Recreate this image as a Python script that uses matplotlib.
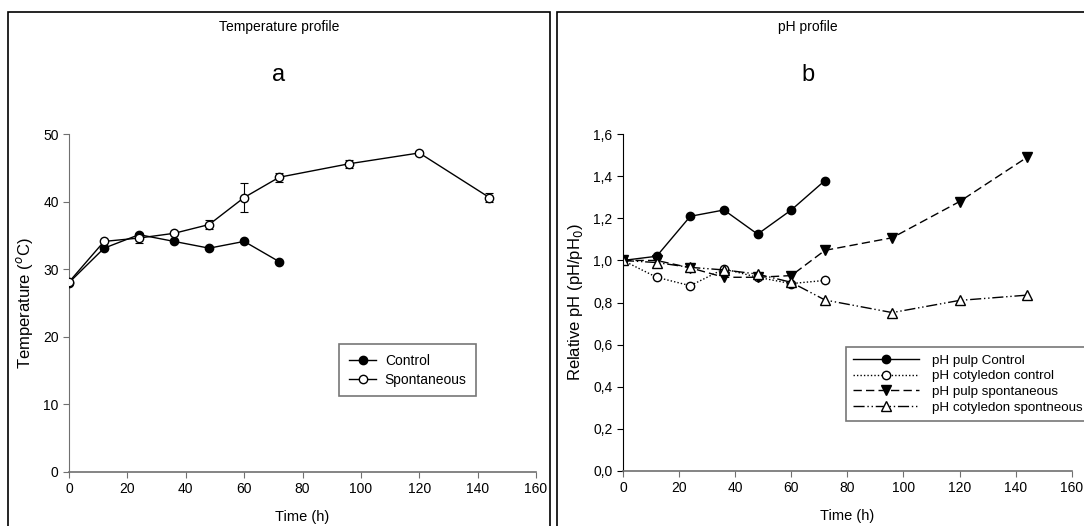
import numpy as np
import matplotlib
matplotlib.use("Agg")
import matplotlib.pyplot as plt
from matplotlib.patches import Rectangle

plt.rcParams['font.family'] = ['Liberation Sans', 'DejaVu Sans']

# Temperature profile data
t_control = [0, 12, 24, 36, 48, 60, 72]
temp_control = [28.0, 33.1, 35.1, 34.1, 33.1, 34.1, 31.1]
t_spont = [0, 12, 24, 36, 48, 60, 72, 96, 120, 144]
temp_spont = [28.1, 34.1, 34.6, 35.3, 36.6, 40.6, 43.6, 45.6, 47.2, 40.6]
temp_spont_err = [0, 0, 0.7, 0, 0.6, 2.1, 0.7, 0.6, 0.3, 0.6]

# pH profile data
t_ph_ctrl = [0, 12, 24, 36, 48, 60, 72]
ph_pulp_ctrl = [1.0, 1.02, 1.21, 1.24, 1.125, 1.24, 1.38]
ph_cot_ctrl = [1.0, 0.92, 0.88, 0.96, 0.92, 0.89, 0.905]
t_ph_spont = [0, 12, 24, 36, 48, 60, 72, 96, 120, 144]
ph_pulp_spont = [1.0, 1.0, 0.965, 0.92, 0.92, 0.928, 1.048, 1.108, 1.28, 1.49]
ph_cot_spont = [1.0, 0.99, 0.967, 0.955, 0.935, 0.896, 0.812, 0.752, 0.81, 0.835]

fig = plt.figure(figsize=(10.84, 5.26), dpi=100)

# panel frames
fig.patches.append(Rectangle((8 / 1084, -0.05), 542 / 1084, 1.05 - 12 / 526,
                             transform=fig.transFigure, fill=False, lw=1.2, ec='black'))
fig.patches.append(Rectangle((557 / 1084, -0.05), 0.6, 1.05 - 12 / 526,
                             transform=fig.transFigure, fill=False, lw=1.2, ec='black'))

gray = '#707070'
fs = 10


def style_axes(ax, ycolor):
    ax.spines['top'].set_visible(False)
    ax.spines['right'].set_visible(False)
    ax.spines['bottom'].set_color(gray)
    ax.spines['left'].set_color(ycolor)
    ax.spines['bottom'].set_linewidth(1.2)
    ax.tick_params(direction='out', length=4, labelsize=fs, colors='black')
    ax.tick_params(axis='x', color=gray)
    ax.tick_params(axis='y', color=ycolor)
    ax.set_xlim(0, 160)
    ax.set_xticks(np.arange(0, 161, 20))
    ax.set_xlabel('Time (h)', fontsize=fs + 0.5, labelpad=10)


# ---- a: temperature
ax1 = fig.add_axes([0.0637, 0.1032, 0.4308, 0.642])
ax1.errorbar(t_spont, temp_spont, yerr=temp_spont_err, fmt='none', ecolor='black',
             elinewidth=0.8, capsize=3.2, capthick=0.8, zorder=2)
ax1.plot(t_control, temp_control, '-o', color='black', mfc='black', mec='black',
         ms=6, lw=1, label='Control', zorder=3)
ax1.plot(t_spont, temp_spont, '-o', color='black', mfc='white', mec='black',
         ms=6, lw=1, label='Spontaneous', zorder=3)
ax1.set_ylim(0, 50)
ax1.set_yticks(np.arange(0, 51, 10))
ax1.set_ylabel('Temperature ($^{o}$C)', fontsize=12, labelpad=6)
style_axes(ax1, gray)
leg = ax1.legend(loc='upper left', bbox_to_anchor=(0.578, 0.378), fontsize=fs,
                 handlelength=2.0, frameon=True, fancybox=False, edgecolor='#555555',
                 borderpad=0.7, labelspacing=0.35, handletextpad=0.6, borderaxespad=0)
leg.get_frame().set_linewidth(1.2)

fig.text(279 / 1084, 1 - 27 / 526, 'Temperature profile', ha='center', va='center', fontsize=10)
fig.text(279 / 1084, 1 - 75 / 526, 'a', ha='center', va='center', fontsize=17)

# ---- b: pH
ax2 = fig.add_axes([0.5747, 0.1051, 0.414, 0.6396])
ax2.plot(t_ph_ctrl, ph_pulp_ctrl, '-o', color='black', mfc='black', ms=6, lw=1,
         label='pH pulp Control')
ax2.plot(t_ph_ctrl, ph_cot_ctrl, linestyle=(0, (1, 1.5)), marker='o', color='black',
         mfc='white', ms=6, lw=1, label='pH cotyledon control')
ax2.plot(t_ph_spont, ph_pulp_spont, linestyle=(0, (6, 3)), marker='v', color='black',
         mfc='black', ms=6.5, lw=1, label='pH pulp spontaneous')
ax2.plot(t_ph_spont, ph_cot_spont, linestyle=(0, (8, 2, 1, 2, 1, 2)), marker='^',
         color='black', mfc='white', ms=6.5, lw=1, label='pH cotyledon spontneous')
ax2.set_ylim(0, 1.6)
ax2.set_yticks(np.arange(0, 1.61, 0.2))
ax2.set_yticklabels([f'{v:.1f}'.replace('.', ',') for v in np.arange(0, 1.61, 0.2)])
ax2.set_ylabel('Relative pH (pH/pH$_0$)', fontsize=12, labelpad=6)
style_axes(ax2, 'black')
leg2 = ax2.legend(loc='upper left', bbox_to_anchor=(0.497, 0.368), fontsize=9.6,
                  handlelength=4.9, numpoints=1, frameon=True, fancybox=False,
                  edgecolor='#555555', borderpad=0.55, labelspacing=0.25,
                  handletextpad=1.0, borderaxespad=0)
leg2.get_frame().set_linewidth(1.2)

fig.text(808 / 1084, 1 - 27 / 526, 'pH profile', ha='center', va='center', fontsize=10)
fig.text(808 / 1084, 1 - 75 / 526, 'b', ha='center', va='center', fontsize=17)

fig.savefig('out.png', dpi=100)
